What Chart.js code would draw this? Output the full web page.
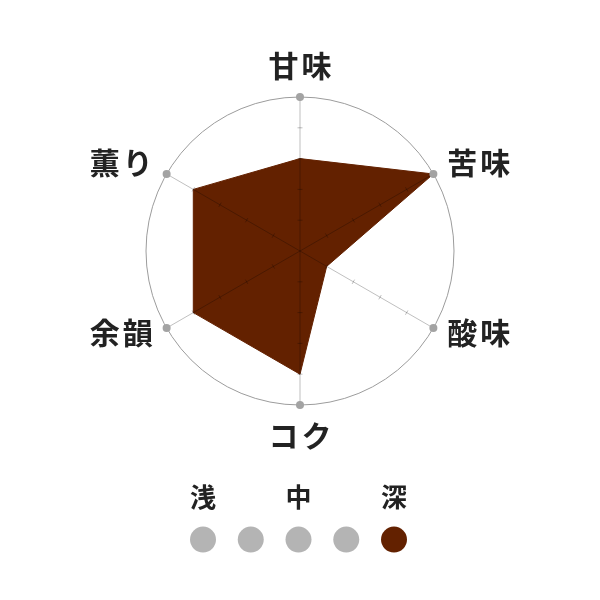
<!DOCTYPE html>
<html lang="ja">
<head>
<meta charset="utf-8">
<title>味わいチャート</title>
<script src="https://cdn.jsdelivr.net/npm/chart.js@4/dist/chart.umd.min.js"></script>
<style>
   html, body { margin: 0; padding: 0; background: #ffffff; }
   #page { position: relative; width: 600px; height: 600px; }
   #radarBox { position: absolute; left: 0; top: 0; width: 600px; height: 500px; }
   #roastBox { position: absolute; left: 0; top: 470px; width: 600px; height: 110px; }
</style>
</head>
<body>
<div id="page">
   <div id="radarBox"><canvas id="radar"></canvas></div>
   <div id="roastBox"><canvas id="roast"></canvas></div>
</div>
<script>
const axisLabels = ["甘味", "苦味", "酸味", "コク", "余韻", "薫り"];
const tasteValues = [3, 5, 1, 4, 4, 4];
const outerValues = [5, 5, 5, 5, 5, 5];
const scaleMax = 5;

const roastLabels = ["浅", "", "中", "", "深"];
const roastSteps = [1, 2, 3, 4, 5];
const roastLevel = 5;

const BROWN = "#632100";
const FONT = "'Noto Sans CJK JP', 'Noto Sans', sans-serif";

// axis lines and small tick marks, drawn over the filled area
const axisTicks = {
   id: "axisTicks",
   afterDatasetDraw(chart, args) {
      if (args.index !== 1) {
         return;
      }
      const r = chart.scales.r;
      const ctx = chart.ctx;
      ctx.save();
      ctx.strokeStyle = "rgba(0, 0, 0, 0.25)";
      ctx.lineWidth = 1;
      for (let i = 0; i < axisLabels.length; i++) {
         const c = r.getPointPositionForValue(i, 0);
         const e = r.getPointPositionForValue(i, scaleMax);
         ctx.beginPath();
         ctx.moveTo(c.x, c.y);
         ctx.lineTo(e.x, e.y);
         ctx.stroke();

         const len = Math.hypot(e.x - c.x, e.y - c.y);
         const nx = -(e.y - c.y) / len;
         const ny = (e.x - c.x) / len;
         for (let v = 1; v < scaleMax; v++) {
            const p = r.getPointPositionForValue(i, v);
            ctx.beginPath();
            ctx.moveTo(p.x - nx * 2.5, p.y - ny * 2.5);
            ctx.lineTo(p.x + nx * 2.5, p.y + ny * 2.5);
            ctx.stroke();
         }
      }
      ctx.restore();
   },
};

// point labels, vertically centred on their spoke and a little letter-spaced
const spacedLabels = {
   id: "spacedLabels",
   afterDraw(chart) {
      const r = chart.scales.r;
      const ctx = chart.ctx;
      const spacing = 3;
      ctx.save();
      ctx.font = "bold 30px " + FONT;
      ctx.fillStyle = "#222222";
      ctx.textBaseline = "middle";
      ctx.textAlign = "left";
      for (let i = 0; i < axisLabels.length; i++) {
         const dir = r.getPointPosition(i, 1);
         const dx = dir.x - r.xCenter;
         const vertical = Math.abs(dx) < 0.01;
         const pos = r.getPointPosition(i, r.drawingArea + (vertical ? 31 : 16));
         const y = vertical ? pos.y : pos.y - 3;
         const chars = Array.from(axisLabels[i]);
         const widths = chars.map((ch) => ctx.measureText(ch).width);
         const total = widths.reduce((a, b) => a + b, 0) + spacing * (chars.length - 1);
         let x = pos.x;
         if (vertical) {
            x -= total / 2;
         } else if (dx < 0) {
            x -= total;
         }
         chars.forEach((ch, k) => {
            ctx.fillText(ch, x, y);
            x += widths[k] + spacing;
         });
      }
      ctx.restore();
   },
};

new Chart(document.getElementById("radar").getContext("2d"), {
   type: "radar",
   data: {
      labels: axisLabels,
      datasets: [
         {
            data: outerValues,
            pointRadius: 4,
            pointBorderWidth: 0,
            pointBackgroundColor: "#a3a3a3",
            borderColor: "transparent",
            borderWidth: 0,
            fill: false,
         },
         {
            data: tasteValues,
            backgroundColor: BROWN,
            borderColor: BROWN,
            borderWidth: 1,
            pointRadius: 0,
            fill: true,
         },
      ],
   },
   options: {
      responsive: true,
      maintainAspectRatio: false,
      animation: false,
      layout: { padding: { top: 97, bottom: 95 } },
      plugins: {
         legend: { display: false },
         tooltip: { enabled: false },
      },
      scales: {
         r: {
            min: 0,
            max: scaleMax,
            ticks: { display: false, stepSize: 1 },
            grid: {
               circular: true,
               lineWidth: 1,
               color: (context) => context.tick && context.tick.value === scaleMax ? "#9c9c9c" : "transparent",
            },
            angleLines: { display: false },
            pointLabels: { display: false },
         },
      },
   },
   plugins: [axisTicks, spacedLabels],
});

new Chart(document.getElementById("roast").getContext("2d"), {
   type: "scatter",
   data: {
      datasets: [
         {
            data: roastSteps.map((s) => ({ x: s, y: 1 })),
            pointRadius: 13,
            pointHoverRadius: 13,
            pointBorderWidth: 0,
            pointBackgroundColor: roastSteps.map((s) => s === roastLevel ? BROWN : "#b4b4b4"),
            clip: false,
         },
      ],
   },
   options: {
      responsive: true,
      maintainAspectRatio: false,
      animation: false,
      layout: { padding: { left: 203, right: 206, top: 12, bottom: 14 } },
      plugins: {
         legend: { display: false },
         tooltip: { enabled: false },
      },
      scales: {
         x: {
            type: "linear",
            position: "top",
            min: 1,
            max: 5,
            grid: { display: false, drawTicks: false },
            border: { display: false },
            ticks: {
               stepSize: 1,
               padding: 0,
               autoSkip: false,
               maxRotation: 0,
               color: "#222222",
               font: { family: FONT, size: 26, weight: "bold" },
               callback: (value) => roastLabels[value - 1] ?? "",
            },
         },
         y: {
            display: false,
            min: 0,
            max: 2,
         },
      },
   },
});
</script>
</body>
</html>
